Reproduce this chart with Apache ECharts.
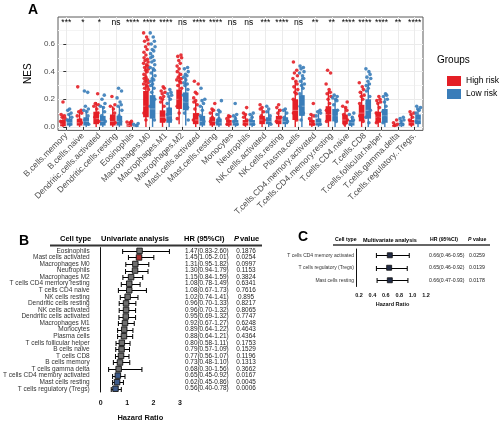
<!DOCTYPE html>
<html><head><meta charset="utf-8">
<script src="https://cdn.jsdelivr.net/npm/echarts@6/dist/echarts.min.js"></script>
<style>html,body{margin:0;padding:0;background:#fff}#c{width:500px;height:423px}</style>
</head><body><div id="c"></div>
<script>
// ---------- Panel A data ----------
const cellTypes = ['B.cells.memory','B.cells.naive','Dendritic.cells.activated','Dendritic.cells.resting','Eosinophils','Macrophages.M0','Macrophages.M1','Macrophages.M2','Mast.cells.activated','Mast.cells.resting','Monocytes','Neutrophils','NK.cells.activated','NK.cells.resting','Plasma.cells','T.cells.CD4.memory.activated','T.cells.CD4.memory.resting','T.cells.CD4.naive','T.cells.CD8','T.cells.follicular.helper','T.cells.gamma.delta','T.cells.regulatory..Tregs.'];
const sigLabels = ['***','*','*','ns','****','****','****','ns','****','****','ns','ns','***','****','ns','**','**','****','****','****','**','****'];
const yTicks = [0, 0.2, 0.4, 0.6];
const yMinorTicks = [0.1, 0.3, 0.5, 0.7];
// [min, q1, median, q3, max]
const highBox = [
 [0,0.005,0.02,0.05,0.09],[0,0.01,0.03,0.06,0.11],[0,0.02,0.06,0.11,0.18],[0,0.01,0.04,0.09,0.15],
 [0,0.002,0.01,0.02,0.035],[0,0.07,0.15,0.26,0.45],[0,0.03,0.07,0.12,0.2],[0.02,0.13,0.2,0.27,0.4],
 [0,0.02,0.05,0.1,0.18],[0,0.01,0.04,0.07,0.13],[0,0.01,0.03,0.05,0.08],[0,0.01,0.03,0.05,0.09],
 [0,0.02,0.05,0.08,0.13],[0,0.02,0.05,0.08,0.13],[0,0.05,0.12,0.2,0.33],[0,0.01,0.03,0.05,0.09],
 [0,0.04,0.09,0.15,0.26],[0,0.02,0.05,0.09,0.14],[0,0.04,0.1,0.16,0.26],[0,0.03,0.07,0.11,0.18],
 [0,0.002,0.008,0.015,0.03],[0,0.01,0.03,0.05,0.09]
];
const lowBox = [
 [0,0.01,0.03,0.06,0.1],[0,0.01,0.04,0.07,0.12],[0,0.01,0.04,0.08,0.15],[0,0.01,0.04,0.08,0.15],
 [0,0.001,0.005,0.01,0.02],[0,0.06,0.13,0.23,0.42],[0,0.03,0.08,0.14,0.22],[0.01,0.12,0.18,0.25,0.36],
 [0,0.01,0.04,0.08,0.15],[0,0.01,0.03,0.06,0.11],[0,0.01,0.03,0.05,0.08],[0,0.01,0.03,0.05,0.09],
 [0,0.02,0.04,0.07,0.12],[0,0.02,0.04,0.07,0.12],[0,0.08,0.15,0.23,0.36],[0,0.01,0.03,0.06,0.1],
 [0,0.04,0.08,0.13,0.2],[0,0.01,0.03,0.05,0.08],[0,0.06,0.12,0.2,0.32],[0,0.03,0.08,0.13,0.21],
 [0,0.005,0.015,0.03,0.05],[0,0.02,0.05,0.09,0.13]
];
const highPts = [
 [0.18,0.09,0.08,0.07,0.06,0.04,0.02],
 [0.29,0.12,0.11,0.1,0.08,0.05,0.03],
 [0.24,0.17,0.16,0.15,0.13,0.1,0.07,0.04],
 [0.22,0.16,0.15,0.13,0.1,0.06,0.03],
 [0.04,0.035,0.03,0.02],
 [0.68,0.65,0.63,0.62,0.6,0.58,0.56,0.54,0.52,0.5,0.49,0.48,0.47,0.46,0.45,0.44,0.43,0.42,0.41,0.4,0.38,0.36,0.35,0.34,0.33,0.32,0.31,0.3,0.29,0.28,0.27,0.2,0.15,0.1,0.05],
 [0.29,0.28,0.26,0.25,0.24,0.22,0.21,0.2,0.18,0.15,0.1,0.05],
 [0.52,0.51,0.5,0.48,0.46,0.44,0.42,0.4,0.38,0.36,0.35,0.34,0.33,0.32,0.3,0.28,0.24,0.2,0.15,0.1,0.06],
 [0.33,0.31,0.25,0.24,0.21,0.19,0.18,0.16,0.13,0.09,0.05],
 [0.17,0.13,0.12,0.1,0.07,0.04],
 [0.08,0.075,0.06,0.04,0.02],
 [0.14,0.1,0.09,0.07,0.05,0.02],
 [0.16,0.14,0.13,0.11,0.08,0.05],
 [0.16,0.14,0.12,0.1,0.07,0.04],
 [0.47,0.41,0.39,0.37,0.35,0.33,0.31,0.29,0.27,0.25,0.24,0.2,0.15,0.1,0.05],
 [0.17,0.09,0.08,0.06,0.04,0.02],
 [0.41,0.39,0.31,0.27,0.25,0.24,0.22,0.2,0.17,0.12,0.08,0.04],
 [0.18,0.15,0.14,0.12,0.09,0.05,0.02],
 [0.32,0.29,0.27,0.25,0.23,0.22,0.2,0.17,0.13,0.08,0.04],
 [0.22,0.2,0.19,0.18,0.17,0.14,0.1,0.06,0.03],
 [0.05,0.03,0.02,0.01],
 [0.11,0.1,0.09,0.07,0.05,0.02]
];
const lowPts = [
 [0.13,0.12,0.1,0.09,0.07,0.05,0.02],
 [0.26,0.25,0.15,0.13,0.12,0.11,0.08,0.05,0.02],
 [0.23,0.2,0.17,0.15,0.14,0.11,0.08,0.04],
 [0.28,0.26,0.21,0.18,0.16,0.15,0.12,0.08,0.04],
 [0.025,0.02,0.01],
 [0.68,0.65,0.62,0.6,0.58,0.56,0.55,0.53,0.51,0.5,0.48,0.47,0.45,0.43,0.42,0.41,0.39,0.37,0.35,0.34,0.33,0.31,0.3,0.28,0.25,0.2,0.15,0.1,0.05],
 [0.27,0.25,0.24,0.23,0.22,0.2,0.17,0.13,0.09,0.05],
 [0.43,0.42,0.4,0.38,0.37,0.36,0.34,0.32,0.31,0.3,0.27,0.23,0.19,0.14,0.1,0.05],
 [0.28,0.2,0.19,0.17,0.15,0.12,0.08,0.04],
 [0.19,0.12,0.11,0.09,0.06,0.03],
 [0.17,0.09,0.08,0.06,0.04,0.02],
 [0.1,0.09,0.07,0.05,0.02],
 [0.15,0.13,0.11,0.08,0.05,0.02],
 [0.13,0.12,0.1,0.07,0.04],
 [0.44,0.43,0.42,0.4,0.39,0.37,0.35,0.33,0.31,0.3,0.28,0.24,0.2,0.15,0.1,0.05],
 [0.12,0.11,0.1,0.08,0.05,0.02],
 [0.23,0.22,0.21,0.2,0.19,0.16,0.12,0.08,0.04],
 [0.1,0.09,0.07,0.05,0.02],
 [0.42,0.4,0.38,0.36,0.35,0.33,0.31,0.3,0.28,0.26,0.22,0.17,0.12,0.07,0.03],
 [0.24,0.23,0.22,0.2,0.18,0.15,0.11,0.07,0.03],
 [0.07,0.06,0.05,0.04,0.02],
 [0.15,0.14,0.13,0.12,0.1,0.07,0.04]
];

// ---------- Panel B data ----------
const uniNames = ['Eosinophils','Mast cells activated','Macrophages M0','Neutrophils','Macrophages M2','T cells CD4 memory resting','T cells CD4 naive','NK cells resting','Dendritic cells resting','NK cells activated','Dendritic cells activated','Macrophages M1','Monocytes','Plasma cells','T cells follicular helper','B cells naive','T cells CD8','B cells memory','T cells gamma delta','T cells CD4 memory activated','Mast cells resting','T cells regulatory (Tregs)'];
const uniHR = [1.47,1.45,1.31,1.30,1.15,1.08,1.08,1.02,0.96,0.96,0.95,0.92,0.89,0.88,0.80,0.79,0.77,0.73,0.68,0.65,0.62,0.56];
const uniLo = [0.83,1.05,0.95,0.94,0.84,0.78,0.67,0.74,0.70,0.70,0.69,0.67,0.64,0.64,0.58,0.57,0.56,0.48,0.30,0.45,0.45,0.40];
const uniHi = [2.60,2.01,1.82,1.79,1.59,1.49,1.73,1.41,1.33,1.32,1.32,1.27,1.22,1.21,1.11,1.09,1.07,1.10,1.56,0.92,0.86,0.78];
const uniP = ['0.1876','0.0254','0.0997','0.1153','0.3824','0.6341','0.7616','0.895','0.8217','0.8065','0.7747','0.6248','0.4643','0.4364','0.1753','0.1529','0.1196','0.1313','0.3662','0.0167','0.0045','0.0006'];

// ---------- Panel C data ----------
const multiNames = ['T cells CD4 memory activated','T cells regulatory (Tregs)','Mast cells resting'];
const multiHR = [0.66,0.65,0.66];
const multiLo = [0.46,0.46,0.47];
const multiHi = [0.95,0.92,0.93];
const multiP = ['0.0259','0.0139','0.0178'];

// ---------- styles ----------
const FF = '"Liberation Sans", Arial, sans-serif';
const RED = '#E41F26', BLUE = '#3A7DB9';
const jitter = [0,-0.11,0.09,-0.05,0.13,-0.14,0.04,0.11,-0.08,0.15,-0.02,0.07,-0.12];
const idx = cellTypes.map((_, i) => i);

function pointData(list, off) {
  const out = [];
  list.forEach((vals, i) => vals.forEach((v, j) => out.push([i + off + jitter[(i + j) % jitter.length], v])));
  return out;
}
function boxRender(color, off) {
  return function (params, api) {
    const i = api.value(0);
    const y = v => api.coord([i + off, v])[1];
    const cx = api.coord([i + off, 0])[0];
    const w = api.size([0.34, 0])[0];
    const mn = api.value(1), q1 = api.value(2), md = api.value(3), q3 = api.value(4), mx = api.value(5);
    return { type: 'group', children: [
      { type: 'line', shape: { x1: cx, y1: y(mn), x2: cx, y2: y(mx) }, style: { stroke: color, lineWidth: 1.4 } },
      { type: 'rect', shape: { x: cx - w / 2, y: y(q3), width: w, height: y(q1) - y(q3) }, style: { fill: color } },
      { type: 'line', shape: { x1: cx - w / 2, y1: y(md), x2: cx + w / 2, y2: y(md) }, style: { stroke: 'rgba(255,255,255,0.35)', lineWidth: 1 } }
    ]};
  };
}
// error bars only: data [lo, hi, row]
function barRender(cap, lw) {
  return function (params, api) {
    const row = api.value(2);
    const a = api.coord([api.value(0), row]);
    const b = api.coord([api.value(1), row]);
    const yc = Math.round(a[1]) + 0.5;
    return { type: 'group', children: [
      { type: 'line', shape: { x1: a[0], y1: yc, x2: b[0], y2: yc }, style: { stroke: '#000', lineWidth: lw } },
      { type: 'line', shape: { x1: a[0], y1: yc - cap, x2: a[0], y2: yc + cap }, style: { stroke: '#000', lineWidth: lw } },
      { type: 'line', shape: { x1: b[0], y1: yc - cap, x2: b[0], y2: yc + cap }, style: { stroke: '#000', lineWidth: lw } }
    ]};
  };
}
// text columns: data [hr, lo, hi, row]
function textRender(fs, hrOff, pOff, pAlign, pList) {
  return function (params, api) {
    const hr = api.value(0), lo = api.value(1), hi = api.value(2), row = api.value(3);
    const yc = api.coord([hr, row])[1];
    const right = params.coordSys.x + params.coordSys.width;
    return { type: 'group', children: [
      { type: 'text', style: { text: hr.toFixed(2) + '(' + lo.toFixed(2) + '-' + hi.toFixed(2) + ')', x: right + hrOff, y: yc, align: 'left', verticalAlign: 'middle', fontSize: fs, fontFamily: FF, fill: '#222' } },
      { type: 'text', style: { text: pList[params.dataIndex], x: right + pOff, y: yc, align: pAlign, verticalAlign: 'middle', fontSize: fs, fontFamily: FF, fill: '#222' } }
    ]};
  };
}
const uniColor = i => parseFloat(uniP[i]) < 0.05 ? (uniHR[i] > 1 ? '#A8302E' : '#3D5A8A') : '#6E6E6E';

const chart = echarts.init(document.getElementById('c'), null, { renderer: 'canvas' });
const txt = (x, y, text, opts) => ({ type: 'text', x, y, style: Object.assign({ text, fontFamily: FF, fill: '#000', verticalAlign: 'middle', align: 'left' }, opts || {}) });

chart.setOption({
  animation: false,
  backgroundColor: '#fff',
  textStyle: { fontFamily: FF },
  grid: [
    { left: 58, top: 17, width: 365, height: 113.4, show: true, borderColor: '#5a5a5a', borderWidth: 1, backgroundColor: 'transparent' },
    { left: 98, top: 247.6, width: 82, height: 147.7 },
    { left: 359, top: 249, width: 67, height: 37.5 }
  ],
  xAxis: [
    { gridIndex: 0, type: 'value', min: -0.5, max: 21.5, axisLine: { show: false },
      axisTick: { customValues: idx, length: 3, lineStyle: { color: '#333' } },
      axisLabel: { customValues: idx, formatter: v => cellTypes[Math.round(v)], rotate: 45, fontSize: 8.5, color: '#4D4D4D', margin: 4, fontFamily: FF },
      splitLine: { show: true, lineStyle: { color: '#EBEBEB', width: 1 } } },
    { gridIndex: 1, type: 'value', min: 0, max: 3, interval: 1, offset: 5,
      axisLine: { lineStyle: { color: '#111', width: 1.5 } },
      axisTick: { length: 3, lineStyle: { color: '#111', width: 1.2 } },
      axisLabel: { fontSize: 7, fontWeight: 'bold', color: '#111', margin: 3, fontFamily: FF },
      splitLine: { show: false },
      name: 'Hazard Ratio', nameLocation: 'middle', nameGap: 17, nameTextStyle: { fontSize: 7.5, fontWeight: 'bold', color: '#111', fontFamily: FF } },
    { gridIndex: 2, type: 'value', min: 0.2, max: 1.2, interval: 0.2, offset: 4,
      axisLine: { lineStyle: { color: '#111', width: 1.2 } },
      axisTick: { length: 2.5, lineStyle: { color: '#111', width: 1 } },
      axisLabel: { fontSize: 5.5, fontWeight: 'bold', color: '#111', margin: 2, formatter: v => v.toFixed(1), fontFamily: FF },
      splitLine: { show: false },
      name: 'Hazard Ratio', nameLocation: 'middle', nameGap: 11, nameTextStyle: { fontSize: 5.5, fontWeight: 'bold', color: '#111', fontFamily: FF } }
  ],
  yAxis: [
    { gridIndex: 0, type: 'value', min: -0.025, max: 0.795, axisLine: { show: false },
      axisTick: { customValues: yTicks, length: 3, lineStyle: { color: '#333' } },
      axisLabel: { customValues: yTicks, formatter: v => v.toFixed(1), fontSize: 8, color: '#4D4D4D', margin: 3, fontFamily: FF },
      splitLine: { show: true, lineStyle: { color: '#EBEBEB', width: 1 } },
      name: 'NES', nameLocation: 'middle', nameGap: 22, nameTextStyle: { fontSize: 10, color: '#000', fontFamily: FF } },
    { gridIndex: 0, type: 'value', min: -0.025, max: 0.795, axisLine: { show: false },
      axisTick: { show: false, customValues: yMinorTicks }, axisLabel: { show: false, customValues: yMinorTicks },
      splitLine: { show: true, lineStyle: { color: '#F4F4F4', width: 1 } } },
    { gridIndex: 1, type: 'category', data: uniNames, inverse: true, offset: 9,
      axisLine: { lineStyle: { color: '#111', width: 1 } },
      axisTick: { length: 2.5, alignWithLabel: true, lineStyle: { color: '#111' } },
      axisLabel: { fontSize: 6.5, color: '#333', margin: 2, fontFamily: FF, interval: 0 } },
    { gridIndex: 2, type: 'category', data: multiNames, inverse: true, offset: 3,
      axisLine: { lineStyle: { color: '#111', width: 1 } },
      axisTick: { length: 2, alignWithLabel: true, lineStyle: { color: '#111' } },
      axisLabel: { fontSize: 5, color: '#333', margin: 2, fontFamily: FF, interval: 0 } }
  ],
  legend: { left: 442, top: 71, orient: 'vertical', itemGap: 3, itemWidth: 14, itemHeight: 10, icon: 'rect',
    data: ['High risk', 'Low risk'], textStyle: { fontSize: 8.5, color: '#000', fontFamily: FF } },
  series: [
    { name: 'High risk', type: 'custom', xAxisIndex: 0, yAxisIndex: 0, itemStyle: { color: RED },
      renderItem: boxRender(RED, -0.2), data: highBox.map((b, i) => [i].concat(b)), encode: { x: 0, y: [1, 5] }, z: 2 },
    { name: 'Low risk', type: 'custom', xAxisIndex: 0, yAxisIndex: 0, itemStyle: { color: BLUE },
      renderItem: boxRender(BLUE, 0.2), data: lowBox.map((b, i) => [i].concat(b)), encode: { x: 0, y: [1, 5] }, z: 2 },
    { name: 'High risk', type: 'scatter', xAxisIndex: 0, yAxisIndex: 0, symbolSize: 3.6,
      itemStyle: { color: RED, opacity: 0.9 }, data: pointData(highPts, -0.2), z: 3 },
    { name: 'Low risk', type: 'scatter', xAxisIndex: 0, yAxisIndex: 0, symbolSize: 3.6,
      itemStyle: { color: BLUE, opacity: 0.9 }, data: pointData(lowPts, 0.2), z: 3 },
    { type: 'custom', xAxisIndex: 0, yAxisIndex: 0, data: sigLabels.map((s, i) => [i, 0.755]),
      renderItem: (params, api) => {
        const p = api.coord([api.value(0), api.value(1)]);
        return { type: 'text', style: { text: sigLabels[params.dataIndex], x: p[0], y: p[1], align: 'center', verticalAlign: 'middle', fontSize: 8.5, fontFamily: FF, fill: '#000' } };
      } },
    // Panel B
    { type: 'custom', xAxisIndex: 1, yAxisIndex: 2, clip: false, z: 2,
      data: uniNames.map((n, i) => [uniLo[i], uniHi[i], i]), encode: { x: [0, 1], y: 2 },
      renderItem: barRender(2.5, 1) },
    { type: 'scatter', xAxisIndex: 1, yAxisIndex: 2, symbol: 'rect', symbolSize: 5.5, z: 3,
      data: uniNames.map((n, i) => [uniHR[i], i]),
      itemStyle: { color: p => uniColor(p.dataIndex), borderColor: '#111', borderWidth: 0.9, opacity: 1 } },
    { type: 'custom', xAxisIndex: 1, yAxisIndex: 2, clip: false,
      data: uniNames.map((n, i) => [uniHR[i], uniLo[i], uniHi[i], i]), encode: { x: [0, 1, 2], y: 3 },
      renderItem: textRender(6.4, 5, 66, 'center', uniP) },
    // Panel C
    { type: 'custom', xAxisIndex: 2, yAxisIndex: 3, clip: false, z: 2,
      data: multiNames.map((n, i) => [multiLo[i], multiHi[i], i]), encode: { x: [0, 1], y: 2 },
      renderItem: barRender(2.5, 1) },
    { type: 'scatter', xAxisIndex: 2, yAxisIndex: 3, symbol: 'rect', symbolSize: 5, z: 3,
      data: multiNames.map((n, i) => [multiHR[i], i]),
      itemStyle: { color: '#222B45', borderColor: '#111', borderWidth: 0.8, opacity: 1 } },
    { type: 'custom', xAxisIndex: 2, yAxisIndex: 3, clip: false,
      data: multiNames.map((n, i) => [multiHR[i], multiLo[i], multiHi[i], i]), encode: { x: [0, 1, 2], y: 3 },
      renderItem: textRender(5.2, 3, 43, 'left', multiP) }
  ],
  graphic: [
    txt(28, 10, 'A', { fontSize: 14, fontWeight: 'bold' }),
    txt(437, 60, 'Groups', { fontSize: 10 }),
    txt(19, 241, 'B', { fontSize: 14, fontWeight: 'bold' }),
    txt(60, 239, 'Cell type', { fontSize: 7.5, fontWeight: 'bold' }),
    txt(101, 239, 'Univariate analysis', { fontSize: 7.5, fontWeight: 'bold' }),
    txt(184, 239, 'HR (95%CI)', { fontSize: 7.5, fontWeight: 'bold' }),
    txt(234, 239, 'P', { fontSize: 7.5, fontWeight: 'bold', fontStyle: 'italic' }),
    txt(240, 239, 'value', { fontSize: 7.5, fontWeight: 'bold' }),
    { type: 'line', shape: { x1: 50, y1: 245.5, x2: 262, y2: 245.5 }, style: { stroke: '#333', lineWidth: 2 } },
    txt(298, 237, 'C', { fontSize: 14, fontWeight: 'bold' }),
    txt(335, 240, 'Cell type', { fontSize: 5.2, fontWeight: 'bold' }),
    txt(363, 240, 'Multivariate analysis', { fontSize: 5.5, fontWeight: 'bold' }),
    txt(430, 240, 'HR (95%CI)', { fontSize: 5.2, fontWeight: 'bold' }),
    txt(468, 240, 'P', { fontSize: 5.2, fontWeight: 'bold', fontStyle: 'italic' }),
    txt(473, 240, 'value', { fontSize: 5.2, fontWeight: 'bold' }),
    { type: 'line', shape: { x1: 333, y1: 245, x2: 490, y2: 245 }, style: { stroke: '#333', lineWidth: 1.5 } }
  ]
});
</script></body></html>
